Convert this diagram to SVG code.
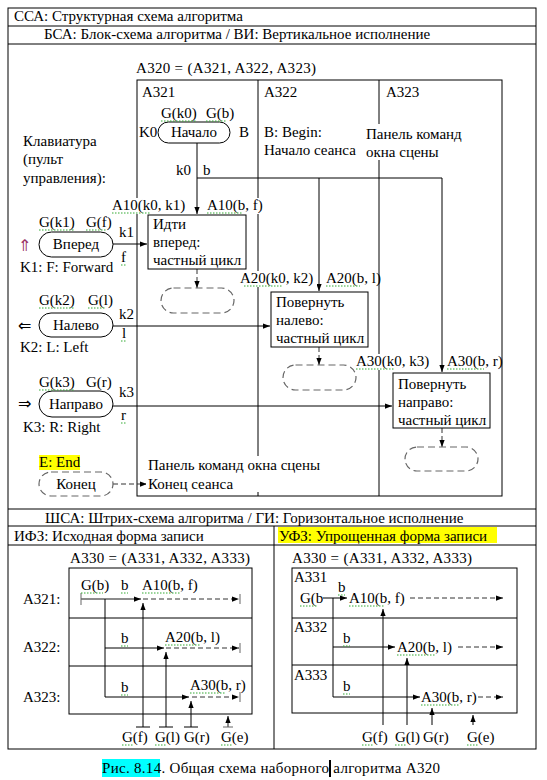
<svg xmlns="http://www.w3.org/2000/svg" width="547" height="780" viewBox="0 0 547 780">
<defs>
<style>
.t{font-family:"Liberation Serif","Times New Roman",serif;font-size:15px;fill:#000}
.c{text-anchor:middle}
.ar{font-family:"DejaVu Sans","Liberation Sans",sans-serif;font-size:16px}
.ln{stroke:#000;stroke-width:1;fill:none}
.gy{stroke:#666;stroke-width:1;fill:none}
.ds{stroke:#333;stroke-width:1;fill:none;stroke-dasharray:5,3}
.dt{stroke:#666;stroke-width:1.2;fill:#fff;stroke-dasharray:7,4}
.bx{stroke:#000;stroke-width:1;fill:#fff}
.wb{fill:#fff}
.sq{stroke:#3a3;stroke-width:1;fill:none;stroke-dasharray:1.5,1.5}
</style>
<marker id="ah" viewBox="0 0 8 8" refX="8" refY="4" markerWidth="7" markerHeight="7" markerUnits="userSpaceOnUse" orient="auto">
<path d="M0,1 L8,4 L0,7 z" fill="#000"/>
</marker>
</defs>

<!-- table frame -->
<g id="table">
<rect x="8" y="8" width="528" height="741" class="ln"/>
<path class="ln" d="M8,26 H536 M8,44 H536 M8,509 H536 M8,526 H536 M8,545 H536 M274,526 V749"/>
<text class="t" x="14" y="21">ССА: Структурная схема алгоритма</text>
<text class="t" x="44" y="39">БСА: Блок-схема алгоритма / ВИ: Вертикальное исполнение</text>
<text class="t" x="45" y="523">ШСА: Штрих-схема алгоритма / ГИ: Горизонтальное исполнение</text>
<text class="t" x="14" y="541">ИФЗ: Исходная форма записи</text>
<rect x="278" y="527" width="219" height="16" fill="#ffff00"/>
<text class="t" x="279" y="541">УФЗ: Упрощенная форма записи</text>
</g>

<!-- vertical structure -->
<g id="a320">
<text class="t" x="136" y="73" textLength="180">A320 = (A321, A322, A323)</text>
<rect x="137" y="80" width="365" height="416" class="ln"/>
<path class="ln" d="M258,80 V496 M379,80 V496"/>
<text class="t" x="142" y="97">A321</text>
<text class="t" x="264" y="97">A322</text>
<text class="t" x="386" y="97">A323</text>
</g>

<g id="keyboard">
<text class="t" x="23" y="146">Клавиатура</text>
<text class="t" x="23" y="164">(пульт</text>
<text class="t" x="23" y="183">управления):</text>
</g>

<g id="begin-note">
<text class="t" x="264" y="137">B: Begin:</text>
<text class="t" x="264" y="155">Начало сеанса</text>
<rect class="wb" x="364" y="124" width="106" height="36"/>
<text class="t" x="366" y="139">Панель команд</text>
<text class="t" x="366" y="157">окна сцены</text>
</g>

<g id="connectors">
<path class="ln" d="M197,143 V214" marker-end="url(#ah)"/>
<path class="ln" d="M197,178 H442"/>
<path class="ln" d="M319,178 V291" marker-end="url(#ah)"/>
<path class="ln" d="M442,178 V372" marker-end="url(#ah)"/>
<path class="ln" d="M113,244 H147" marker-end="url(#ah)"/>
<path class="ln" d="M113,326 H270" marker-end="url(#ah)"/>
<path class="ln" d="M113,406 H392" marker-end="url(#ah)"/>
<path class="ds" d="M197,269 V288" marker-end="url(#ah)"/>
<path class="ds" d="M319,347 V365" marker-end="url(#ah)"/>
<path class="ds" d="M442,428 V447" marker-end="url(#ah)"/>
<path class="ds" d="M113,484 H147" marker-end="url(#ah)"/>
</g>

<g id="labels">
<text class="t" x="176" y="175">k0</text>
<text class="t" x="203" y="175">b</text>
<rect class="wb" x="111" y="198" width="78" height="16"/>
<text class="t" x="112" y="210">A10(k0, k1)</text>
<rect class="wb" x="205" y="198" width="60" height="16"/>
<text class="t" x="207" y="210">A10(b, f)</text>
<rect class="wb" x="239" y="271" width="78" height="16"/>
<text class="t" x="240" y="283">A20(k0, k2)</text>
<text class="t" x="326" y="283">A20(b, l)</text>
<rect class="wb" x="355" y="354" width="80" height="16"/>
<text class="t" x="356" y="366">A30(k0, k3)</text>
<text class="t" x="447" y="366">A30(b, r)</text>
</g>

<g id="start">
<text class="t" x="161" y="118">G(k0)</text>
<text class="t" x="206" y="118">G(b)</text>
<text class="t" x="139" y="137">K0</text>
<text class="t" x="239" y="137">B</text>
<rect class="bx" x="158" y="122" width="72" height="21" rx="10.5"/>
<text class="t c" x="194" y="137">Начало</text>
</g>

<g id="forward">
<text class="t" x="39" y="227">G(k1)</text>
<text class="t" x="86" y="227">G(f)</text>
<text class="t ar" x="18" y="251" style="fill:#993366">⇑</text>
<rect class="bx" x="39" y="232" width="74" height="25" rx="12.5"/>
<text class="t c" x="76" y="249">Вперед</text>
<text class="t" x="20" y="272">K1: F: Forward</text>
<text class="t" x="119" y="237">k1</text>
<text class="t" x="121" y="262">f</text>
</g>

<g id="left">
<text class="t" x="39" y="305">G(k2)</text>
<text class="t" x="88" y="305">G(l)</text>
<text class="t ar" x="18" y="331">⇐</text>
<rect class="bx" x="39" y="313" width="74" height="24" rx="12"/>
<text class="t c" x="76" y="330">Налево</text>
<text class="t" x="20" y="352">K2: L: Left</text>
<text class="t" x="119" y="319">k2</text>
<text class="t" x="122" y="338">l</text>
</g>

<g id="right">
<text class="t" x="39" y="387">G(k3)</text>
<text class="t" x="86" y="387">G(r)</text>
<text class="t ar" x="18" y="409">⇒</text>
<rect class="bx" x="39" y="391" width="74" height="26" rx="13"/>
<text class="t c" x="76" y="409">Направо</text>
<text class="t" x="23" y="432">K3: R: Right</text>
<text class="t" x="119" y="397">k3</text>
<text class="t" x="121" y="420">r</text>
</g>

<g id="end">
<rect x="39" y="455" width="41" height="15" fill="#ffff00"/>
<text class="t" x="39" y="467">E: End</text>
<rect class="dt" x="39" y="472" width="74" height="24" rx="12"/>
<text class="t c" x="76" y="489">Конец</text>
<rect class="wb" x="146" y="456" width="180" height="36"/>
<text class="t" x="148" y="470">Панель команд окна сцены</text>
<text class="t" x="148" y="489">Конец сеанса</text>
</g>

<g id="box-forward">
<rect class="bx" x="148" y="215" width="98" height="54"/>
<text class="t" x="153" y="229">Идти</text>
<text class="t" x="153" y="247">вперед:</text>
<text class="t" x="153" y="265">частный цикл</text>
<rect class="dt" x="161" y="288" width="73" height="25" rx="12.5"/>
</g>

<g id="box-left">
<rect class="bx" x="271" y="292" width="97" height="55"/>
<text class="t" x="276" y="307">Повернуть</text>
<text class="t" x="276" y="325">налево:</text>
<text class="t" x="276" y="343">частный цикл</text>
<rect class="dt" x="283" y="365" width="73" height="25" rx="12.5"/>
</g>

<g id="box-right">
<rect class="bx" x="393" y="373" width="97" height="55"/>
<text class="t" x="398" y="389">Повернуть</text>
<text class="t" x="398" y="407">направо:</text>
<text class="t" x="398" y="425">частный цикл</text>
<rect class="dt" x="405" y="447" width="73" height="24" rx="12"/>
</g>

<!-- horizontal: original form -->
<g id="ifz">
<text class="t" x="70" y="563" textLength="180">A330 = (A331, A332, A333)</text>
<rect x="69" y="568" width="183" height="146" class="ln"/>
<path class="ln" d="M69,618 H252 M69,666 H252"/>
<text class="t" x="23" y="604">A321:</text>
<text class="t" x="23" y="652">A322:</text>
<text class="t" x="23" y="702">A323:</text>
<text class="t" x="81" y="590">G(b)</text>
<text class="t" x="121" y="590">b</text>
<text class="t" x="142" y="590">A10(b, f)</text>
<text class="t" x="121" y="643">b</text>
<text class="t" x="165" y="642">A20(b, l)</text>
<text class="t" x="121" y="692">b</text>
<text class="t" x="190" y="690">A30(b, r)</text>
<path class="gy" d="M81,593 V605 M240,594 V604 M240,643 V653 M240,692 V702"/>
<path class="gy" style="stroke-width:1.5" d="M81,599 H141" marker-end="url(#ah)"/>
<path class="ln" d="M105,599 V697"/>
<path class="ln" d="M105,648 H164" marker-end="url(#ah)"/>
<path class="ln" d="M105,697 H189" marker-end="url(#ah)"/>
<path class="ds" d="M143,599 H239" marker-end="url(#ah)"/>
<path class="ds" d="M166,648 H239" marker-end="url(#ah)"/>
<path class="ds" d="M192,697 H239" marker-end="url(#ah)"/>
<path class="ln" d="M143,727 V603" marker-end="url(#ah)"/>
<path class="ln" d="M166,727 V652" marker-end="url(#ah)"/>
<path class="ln" d="M191,727 V701" marker-end="url(#ah)"/>
<path class="gy" style="stroke-width:1.5" d="M228,727 V716" marker-end="url(#ah)"/>
<path class="ln" d="M136,727 H150 M159,727 H173 M184,727 H198"/>
<path class="gy" d="M223,727 H233"/>
<text class="t" x="122" y="742">G(f)</text>
<text class="t" x="155" y="742">G(l)</text>
<text class="t" x="184" y="742">G(r)</text>
<text class="t" x="221" y="742">G(e)</text>
</g>

<!-- horizontal: simplified form -->
<g id="ufz">
<text class="t" x="292" y="563" textLength="180">A330 = (A331, A332, A333)</text>
<rect x="292" y="568" width="225" height="145" class="ln"/>
<path class="ln" d="M292,618 H517 M292,665 H517"/>
<text class="t" x="294" y="582">A331</text>
<text class="t" x="294" y="632">A332</text>
<text class="t" x="294" y="680">A333</text>
<text class="t" x="300" y="603">G(b</text>
<text class="t" x="338" y="592">b</text>
<text class="t" x="349" y="603">A10(b, f)</text>
<text class="t" x="343" y="643">b</text>
<text class="t" x="397" y="652">A20(b, l)</text>
<text class="t" x="343" y="691">b</text>
<text class="t" x="421" y="702">A30(b, r)</text>
<path class="ln" d="M323,598 H347" marker-end="url(#ah)"/>
<path class="ln" d="M333,598 V697"/>
<path class="ln" d="M333,647 H395" marker-end="url(#ah)"/>
<path class="ln" d="M333,697 H420" marker-end="url(#ah)"/>
<path class="ds" d="M410,598 H503" marker-end="url(#ah)"/>
<path class="ds" d="M458,647 H503" marker-end="url(#ah)"/>
<path class="ds" d="M478,697 H503" marker-end="url(#ah)"/>
<path class="ln" d="M383,725 V609" marker-end="url(#ah)"/>
<path class="ln" d="M407,725 V658" marker-end="url(#ah)"/>
<path class="ln" d="M432,725 V708" marker-end="url(#ah)"/>
<path class="ln" d="M473,725 V715" marker-end="url(#ah)"/>
<text class="t" x="362" y="742">G(f)</text>
<text class="t" x="395" y="742">G(l)</text>
<text class="t" x="423" y="742">G(r)</text>
<text class="t" x="467" y="742">G(e)</text>
</g>

<!-- spell-check underlines -->
<g id="squiggles">
<path class="sq" d="M161,121 H196 M206,121 H226 M112,213 H150 M207,213 H243 M39,230 H75 M86,230 H106 M121,265 H127 M39,308 H75 M88,308 H106 M121,341 H126 M244,286 H283 M326,286 H360 M356,369 H395 M447,369 H484 M39,390 H75 M121,423 H127"/>
<path class="sq" d="M81,593 H103 M121,593 H128 M142,593 H180 M121,646 H128 M165,645 H200 M121,695 H128 M190,693 H226 M122,745 H134 M155,745 H167 M221,745 H233"/>
<path class="sq" d="M300,606 H318 M338,595 H345 M349,606 H385 M343,646 H350 M397,655 H435 M343,694 H350 M421,705 H459 M362,745 H374 M395,745 H407 M467,745 H479"/>
</g>

<g id="caption">
<rect x="102" y="759" width="58" height="18" fill="#00ffff"/>
<text class="t" x="102" y="773" textLength="338">Рис. 8.14. Общая схема наборного алгоритма A320</text>
<rect x="329" y="760" width="2" height="17" fill="#000"/>
</g>
</svg>
